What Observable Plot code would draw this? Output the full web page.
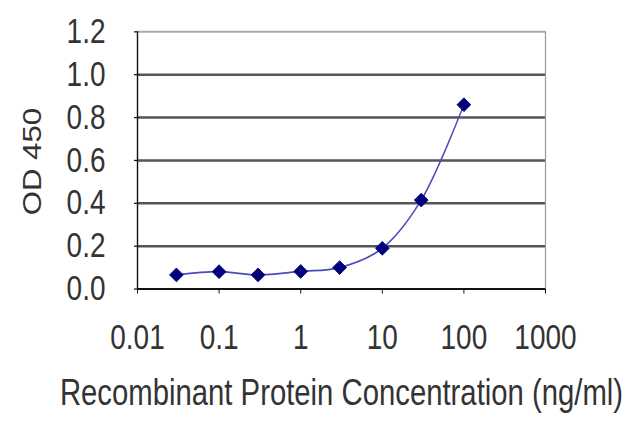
<!DOCTYPE html>
<html>
<head>
<meta charset="utf-8">
<script src="https://cdn.jsdelivr.net/npm/d3@7"></script>
<script src="https://cdn.jsdelivr.net/npm/@observablehq/plot@0.6"></script>
<style>
  html, body { margin: 0; padding: 0; background: #fff; }
  #chart svg { display: block; }
</style>
</head>
<body>
<div id="chart"></div>
<script>
// ---- data ----
const concentrations = [0.03, 0.1, 0.3, 1, 3, 10, 30, 100];
const od450 = [0.066, 0.081, 0.066, 0.082, 0.10, 0.19, 0.415, 0.86];
const xTicks = [0.01, 0.1, 1, 10, 100, 1000];
const xTickLabels = ["0.01", "0.1", "1", "10", "100", "1000"];
const yTicks = [0, 0.2, 0.4, 0.6, 0.8, 1.0, 1.2];
const yGrid = [0.2, 0.4, 0.6, 0.8, 1.0];
const xLabel = "Recombinant Protein Concentration (ng/ml)";
const yLabel = "OD 450";

const points = concentrations.map((c, i) => ({ c, od: od450[i] }));

// the reference is vertically stretched; draw at H and stretch to 427
const W = 640, OUTH = 427, H = 342, S = OUTH / H;

const flatDiamond = {
  draw(ctx, size) {
    const r = Math.sqrt(size) * 0.62625;
    ctx.moveTo(0, -r / S);
    ctx.lineTo(r, 0);
    ctx.lineTo(0, r / S);
    ctx.lineTo(-r, 0);
    ctx.closePath();
  }
};

const svg = Plot.plot({
  width: W,
  height: H,
  marginLeft: 137,
  marginRight: 95,
  marginTop: 25,
  marginBottom: 111,
  style: { fontFamily: "'Liberation Sans', Arial, sans-serif", color: "#333", background: "#fff" },
  x: { type: "log", domain: [0.01, 1000] },
  y: { domain: [0, 1.2] },
  marks: [
    Plot.ruleY(yGrid, { stroke: "#555", strokeWidth: 2 }),
    Plot.ruleY([1.2], { stroke: "#aaa", strokeWidth: 1.6 }),
    Plot.ruleX([1000], { stroke: "#999", strokeWidth: 1.2 }),
    Plot.ruleX([0.01], { stroke: "#111", strokeWidth: 1.4 }),
    Plot.ruleY([0], { stroke: "#111", strokeWidth: 1.6 }),
    Plot.axisY({ ticks: yTicks, tickFormat: d => d.toFixed(1), tickSize: 3, tickPadding: 29,
      fontSize: 28, label: null, stroke: "#111" }),
    Plot.axisX({ ticks: xTicks, tickFormat: d => xTickLabels[xTicks.indexOf(d)], tickSize: 4,
      tickPadding: 24, fontSize: 28, label: null, stroke: "#111" }),
    Plot.line(points, { x: "c", y: "od", curve: "catmull-rom", stroke: "#4a4ab8", strokeWidth: 1.4 }),
    Plot.dot(points, { x: "c", y: "od", symbol: flatDiamond, r: 6.2, fill: "#00007a", stroke: "#00007a", strokeWidth: 0.8 }),
    Plot.text([xLabel], { text: d => d, frameAnchor: "bottom", dy: 93, fontSize: 29.3, fill: "#333" }),
    Plot.text([yLabel], { text: d => d, frameAnchor: "left", dx: -105, dy: 44, rotate: -90, fontSize: 25, fill: "#333" })
  ]
});

svg.setAttribute("preserveAspectRatio", "none");
svg.setAttribute("viewBox", `0 0 ${W} ${H}`);
svg.setAttribute("width", W);
svg.setAttribute("height", OUTH);
svg.style.width = W + "px";
svg.style.height = OUTH + "px";
svg.style.maxWidth = "none";
document.getElementById("chart").appendChild(svg);
</script>
</body>
</html>
